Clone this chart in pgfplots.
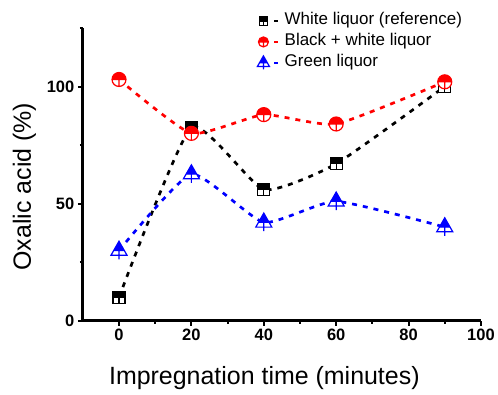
\documentclass[border=0pt]{standalone}
\usepackage{fontspec}
\setmainfont{Liberation Sans}
\usepackage{pgfplots}
\pgfplotsset{compat=1.18}

\pgfdeclareplotmark{hsq}{%
  \pgfsetfillcolor{white}%
  \pgfpathrectangle{\pgfpoint{-\pgfplotmarksize}{-\pgfplotmarksize}}{\pgfpoint{2\pgfplotmarksize}{2\pgfplotmarksize}}%
  \pgfusepathqfill
  \pgfsetfillcolor{black}%
  \pgfpathrectangle{\pgfpoint{-\pgfplotmarksize}{0pt}}{\pgfpoint{2\pgfplotmarksize}{\pgfplotmarksize}}%
  \pgfusepathqfill
  \pgfpathrectangle{\pgfpoint{-\pgfplotmarksize}{-\pgfplotmarksize}}{\pgfpoint{2\pgfplotmarksize}{2\pgfplotmarksize}}%
  \pgfpathmoveto{\pgfpoint{-\pgfplotmarksize}{0pt}}\pgfpathlineto{\pgfpoint{\pgfplotmarksize}{0pt}}%
  \pgfpathmoveto{\pgfpointorigin}\pgfpathlineto{\pgfpoint{0pt}{-\pgfplotmarksize}}%
  \pgfusepathqstroke
}
\pgfdeclareplotmark{hcir}{%
  \pgfsetfillcolor{white}%
  \pgfpathcircle{\pgfpointorigin}{\pgfplotmarksize}\pgfusepathqfill
  \pgfsetfillcolor{red}%
  \pgfpathmoveto{\pgfpoint{\pgfplotmarksize}{0pt}}%
  \pgfpatharc{0}{180}{\pgfplotmarksize}%
  \pgfpathclose\pgfusepathqfill
  \pgfpathcircle{\pgfpointorigin}{\pgfplotmarksize}%
  \pgfpathmoveto{\pgfpoint{-\pgfplotmarksize}{0pt}}\pgfpathlineto{\pgfpoint{\pgfplotmarksize}{0pt}}%
  \pgfpathmoveto{\pgfpointorigin}\pgfpathlineto{\pgfpoint{0pt}{-\pgfplotmarksize}}%
  \pgfusepathqstroke
}
\pgfdeclareplotmark{htri}{%
  \pgfsetfillcolor{white}%
  \pgfpathmoveto{\pgfpoint{0pt}{1.16\pgfplotmarksize}}%
  \pgfpathlineto{\pgfpoint{\pgfplotmarksize}{-0.59\pgfplotmarksize}}%
  \pgfpathlineto{\pgfpoint{-\pgfplotmarksize}{-0.59\pgfplotmarksize}}\pgfpathclose\pgfusepathqfill
  \pgfsetfillcolor{blue}%
  \pgfpathmoveto{\pgfpoint{0pt}{1.16\pgfplotmarksize}}%
  \pgfpathlineto{\pgfpoint{0.663\pgfplotmarksize}{0pt}}%
  \pgfpathlineto{\pgfpoint{-0.663\pgfplotmarksize}{0pt}}\pgfpathclose\pgfusepathqfill
  \pgfpathmoveto{\pgfpoint{0pt}{1.16\pgfplotmarksize}}%
  \pgfpathlineto{\pgfpoint{\pgfplotmarksize}{-0.59\pgfplotmarksize}}%
  \pgfpathlineto{\pgfpoint{-\pgfplotmarksize}{-0.59\pgfplotmarksize}}\pgfpathclose
  \pgfpathmoveto{\pgfpoint{-0.663\pgfplotmarksize}{0pt}}\pgfpathlineto{\pgfpoint{0.663\pgfplotmarksize}{0pt}}%
  \pgfpathmoveto{\pgfpointorigin}\pgfpathlineto{\pgfpoint{0pt}{-1.1\pgfplotmarksize}}%
  \pgfusepathqstroke
}

\pgfplotsset{
  myleg/.style={legend image code/.code={%
     \draw[##1,mark=none,solid,line width=2.7pt] (15.5pt,0pt) -- (19.5pt,0pt);
     \draw[##1,mark size=#1] plot coordinates {(4.5pt,0pt)};}},
  myline/.style={smooth, tension=0.3, line width=2.7pt, dash pattern=on 5pt off 6pt,
     mark options={solid, line width=1.2pt}},
}

\begin{document}
\begin{tikzpicture}
\begin{axis}[
  at={(0,0)}, anchor=south west,
  scale only axis, width=399pt, height=293.5pt,
  xmin=-10, xmax=100, ymin=0, ymax=125,
  axis x line*=bottom, axis y line*=left,
  axis line style={-, line width=3pt},
  xtick={0,20,40,60,80,100}, minor xtick={10,30,50,70,90},
  ytick={0,50,100}, minor ytick={25,75,125},
  tick align=outside,
  major tick length=5pt, minor tick length=3pt,
  every tick/.style={black, line width=2pt},
  /pgf/number format/assume math mode=true,
  ticklabel style={font=\fontsize{16.5}{16.5}\selectfont\bfseries},
  xlabel={Impregnation time (minutes)},
  ylabel={Oxalic acid (\%)},
  label style={font=\fontsize{25}{30}\selectfont},
  xlabel style={at={(axis description cs:0.456,0)}, anchor=base, yshift=-63.5pt},
  ylabel style={at={(axis description cs:-0.1303,0.458)}, anchor=base},
  legend style={at={(0.4386,1.051)}, anchor=north west, draw=none, fill=none,
     inner sep=0pt, outer sep=0pt, row sep=5pt,
     font=\fontsize{17}{17}\selectfont,
     nodes={inner xsep=5pt, inner ysep=0pt, text height=12pt, text depth=4pt}},
  legend cell align=left,
  clip=false,
]
\addplot[black, myline, mark=hsq, mark size=6pt, myleg=4.3pt] coordinates {
 (0,10) (20,82.5) (40,56) (60,67) (90,100)};
\addlegendentry{White liquor (reference)}
\addplot[red, myline, mark=hcir, mark size=7pt, myleg=5pt] coordinates {
 (0,103) (20,80) (40,88) (60,84) (90,102)};
\addlegendentry{Black + white liquor}
\addplot[blue, myline, mark=htri, mark size=8pt, myleg=6pt] coordinates {
 (0,30) (20,62.6) (40,42) (60,51) (90,40)};
\addlegendentry{Green liquor}
\end{axis}
\useasboundingbox (-83pt,-73.5pt) rectangle (415pt,321.5pt);
\end{tikzpicture}
\end{document}
